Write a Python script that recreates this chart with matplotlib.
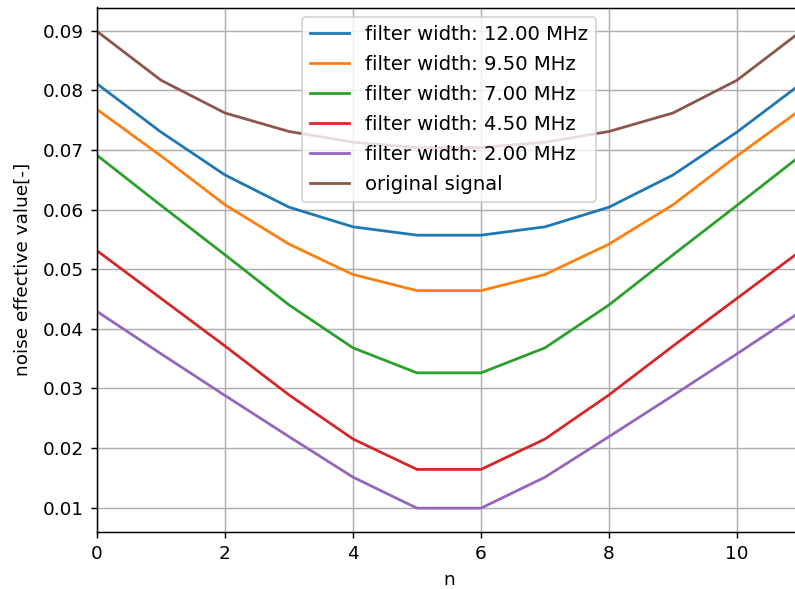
import matplotlib
matplotlib.use("Agg")
import matplotlib.pyplot as plt
import numpy as np

# sample index
n = np.arange(12)

# noise effective value per filter width (symmetric around the centre)
labels = ["filter width: 12.00 MHz", "filter width: 9.50 MHz",
          "filter width: 7.00 MHz", "filter width: 4.50 MHz",
          "filter width: 2.00 MHz", "original signal"]
w12 = [0.0811, 0.0730, 0.0658, 0.0604, 0.0571, 0.0557,
       0.0557, 0.0571, 0.0604, 0.0658, 0.0730, 0.0811]
w95 = [0.0768, 0.0690, 0.0608, 0.0542, 0.0491, 0.0464,
       0.0464, 0.0491, 0.0542, 0.0608, 0.0690, 0.0768]
w70 = [0.0691, 0.0607, 0.0524, 0.0440, 0.0368, 0.0326,
       0.0326, 0.0368, 0.0440, 0.0524, 0.0607, 0.0691]
w45 = [0.0531, 0.0451, 0.0371, 0.0289, 0.0215, 0.0164,
       0.0164, 0.0215, 0.0289, 0.0371, 0.0451, 0.0531]
w20 = [0.0429, 0.0358, 0.0288, 0.0219, 0.0151, 0.0099,
       0.0099, 0.0151, 0.0219, 0.0288, 0.0358, 0.0429]
orig = [0.0899, 0.0817, 0.0762, 0.0731, 0.0713, 0.0704,
        0.0704, 0.0713, 0.0731, 0.0762, 0.0817, 0.0899]

dpi = 133
fig = plt.figure(figsize=(795 / dpi, 589 / dpi), dpi=dpi)
ax = fig.add_axes([97 / 795, 57 / 589, 704 / 795, 524.5 / 589])

for series, label in zip([w12, w95, w70, w45, w20, orig], labels):
    ax.plot(n, series, label=label)

ax.set_xlim(0, 11)
ax.set_xlabel("n", labelpad=4.5)
ax.set_ylabel("noise effective value[-]", labelpad=6)
ax.grid(True)
ax.legend(loc="upper center", fontsize=10.6, labelspacing=0.56)

fig.savefig("out.png", dpi=dpi)
